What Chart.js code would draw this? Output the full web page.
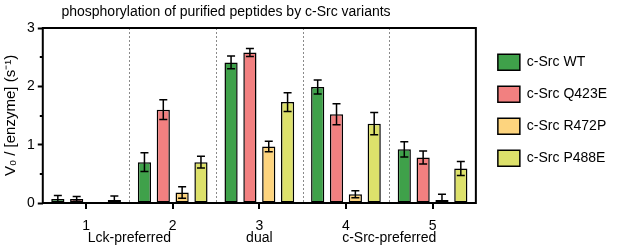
<!DOCTYPE html>
<html><head><meta charset="utf-8">
<script src="https://cdn.jsdelivr.net/npm/chart.js@4.4.0/dist/chart.umd.min.js"></script>
<style>
html,body{margin:0;padding:0;background:#fff;}
#wrap{width:617px;height:248px;}
</style>
</head>
<body>
<div id="wrap"><canvas id="myChart" width="617" height="248"></canvas></div>
<script>
// data
var chartTitle = 'phosphorylation of purified peptides by c-Src variants';
var categories = ['1', '2', '3', '4', '5'];
var groupLabels = ['Lck-preferred', 'dual', 'c-Src-preferred'];
var groupFrom = [0, 2, 3];
var groupTo = [1, 2, 4];
var seriesNames = ['c-Src WT', 'c-Src Q423E', 'c-Src R472P', 'c-Src P488E'];
var seriesColors = ['#3fa14a', '#f28080', '#fdd47e', '#dde16b'];
var wtValues = [0.07, 0.70, 2.41, 1.99, 0.92];
var wtErr = [0.06, 0.16, 0.11, 0.12, 0.13];
var q423eValues = [0.07, 1.60, 2.58, 1.52, 0.78];
var q423eErr = [0.04, 0.17, 0.07, 0.18, 0.11];
var r472pValues = [null, 0.18, 0.97, 0.15, 0.05];
var r472pErr = [null, 0.10, 0.09, 0.06, 0.10];
var p488eValues = [0.05, 0.70, 1.73, 1.36, 0.59];
var p488eErr = [0.07, 0.10, 0.16, 0.19, 0.12];
var yTicks = [0, 1, 2, 3];
var yMinorTicks = [0.5, 1.5, 2.5];

var allValues = [wtValues, q423eValues, r472pValues, p488eValues];
var allErr = [wtErr, q423eErr, r472pErr, p488eErr];
var fontFamily = '"Liberation Sans", Arial, sans-serif';
var legendGap = 6; // extra space between plot frame and legend

var datasets = seriesNames.map(function (name, i) {
  return {
    label: name,
    data: allValues[i],
    backgroundColor: seriesColors[i],
    borderColor: '#000',
    borderWidth: 1.5,
    borderSkipped: false,
    categoryPercentage: 0.87,
    barPercentage: 0.7
  };
});

var extras = {
  id: 'extras',
  beforeLayout: function (chart) {
    var lg = chart.legend;
    if (lg && !lg._gapWrapped) {
      var fit = lg.fit;
      lg.fit = function () { fit.call(this); this.width += legendGap; };
      lg._gapWrapped = true;
    }
  },
  afterLayout: function (chart) {
    if (chart.legend) chart.legend.left += legendGap;
  },
  beforeDatasetsDraw: function (chart) {
    var x = chart.scales.x, a = chart.chartArea, c = chart.ctx;
    c.save();
    c.strokeStyle = '#8a8a8a';
    c.lineWidth = 1;
    c.setLineDash([2, 2]);
    for (var i = 0; i < categories.length - 1; i++) {
      var px = Math.round((x.getPixelForValue(i) + x.getPixelForValue(i + 1)) / 2) + 0.5;
      c.beginPath(); c.moveTo(px, a.top); c.lineTo(px, a.bottom); c.stroke();
    }
    c.restore();
  },
  afterDatasetsDraw: function (chart) {
    var x = chart.scales.x, y = chart.scales.y, a = chart.chartArea, c = chart.ctx;
    c.save();
    // error bars
    c.strokeStyle = '#000';
    c.lineWidth = 1.5;
    for (var d = 0; d < allValues.length; d++) {
      var meta = chart.getDatasetMeta(d);
      for (var j = 0; j < categories.length; j++) {
        var v = allValues[d][j], e = allErr[d][j];
        if (v == null || e == null) continue;
        var bx = meta.data[j].x;
        var yt = y.getPixelForValue(v + e), yb = y.getPixelForValue(Math.max(0, v - e));
        c.beginPath();
        c.moveTo(bx, yt); c.lineTo(bx, yb);
        c.moveTo(bx - 4, yt); c.lineTo(bx + 4, yt);
        c.moveTo(bx - 4, yb); c.lineTo(bx + 4, yb);
        c.stroke();
      }
    }
    // frame
    c.lineWidth = 2;
    c.strokeRect(a.left, a.top, a.right - a.left, a.bottom - a.top);
    // x tick marks
    for (var k = 0; k < categories.length; k++) {
      var tx = Math.round(x.getPixelForValue(k));
      c.beginPath(); c.moveTo(tx, a.bottom); c.lineTo(tx, a.bottom + 6); c.stroke();
    }
    // y minor ticks
    yMinorTicks.forEach(function (t) {
      var ty = Math.round(y.getPixelForValue(t));
      c.beginPath(); c.moveTo(a.left, ty); c.lineTo(a.left - 3, ty); c.stroke();
    });
    // group labels
    c.fillStyle = '#000';
    c.font = '14px ' + fontFamily;
    c.textAlign = 'center';
    c.textBaseline = 'middle';
    groupLabels.forEach(function (g, i) {
      var gx = (x.getPixelForValue(groupFrom[i]) + x.getPixelForValue(groupTo[i])) / 2;
      c.fillText(g, gx, 238);
    });
    // title
    c.fillText(chartTitle, 226, 12);
    c.restore();
  }
};

new Chart(document.getElementById('myChart'), {
  type: 'bar',
  data: { labels: categories, datasets: datasets },
  options: {
    responsive: false,
    animation: false,
    devicePixelRatio: 1,
    layout: { padding: { top: 28, bottom: 0, left: 2, right: 0 } },
    plugins: {
      title: { display: false },
      tooltip: { enabled: false },
      legend: {
        position: 'right',
        align: 'start',
        title: { display: true, text: '', font: { size: 1 }, padding: { top: 9, bottom: 0 } },
        labels: {
          boxWidth: 22, boxHeight: 16, padding: 16, color: '#000',
          font: { size: 14, family: fontFamily }
        }
      }
    },
    scales: {
      x: {
        grid: { display: false, drawTicks: false },
        border: { display: false },
        ticks: { color: '#000', padding: 15, font: { size: 14, family: fontFamily } },
        afterFit: function (s) { s.height = 45; }
      },
      y: {
        min: 0, max: 3,
        afterBuildTicks: function (s) { s.ticks = yTicks.map(function (v) { return { value: v }; }); },
        grid: { drawOnChartArea: false, tickLength: 5, tickWidth: 2, tickColor: '#000' },
        border: { display: false },
        ticks: { color: '#000', padding: 3, font: { size: 14, family: fontFamily } },
        title: {
          display: true, text: 'V₀ / [enzyme] (s⁻¹)', color: '#000',
          font: { size: 15, family: fontFamily },
          padding: { top: 0, bottom: 4 }
        }
      }
    }
  },
  plugins: [extras]
});
</script>
</body></html>
